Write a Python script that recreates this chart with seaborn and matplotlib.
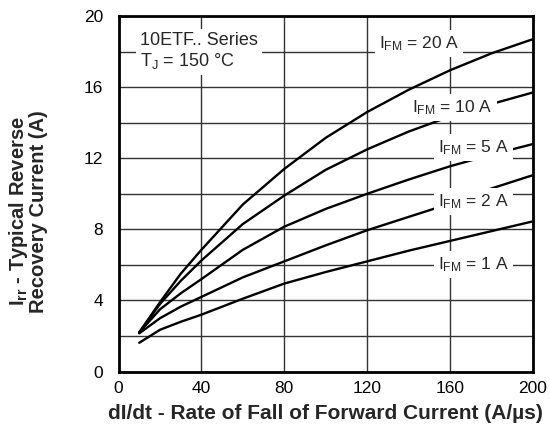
import matplotlib
matplotlib.use('Agg')
import matplotlib.pyplot as plt
from matplotlib.ticker import MultipleLocator
import numpy as np
import pandas as pd
import seaborn as sns

# 그래프 데이터
didt = [10, 20, 30, 40, 60, 80, 100, 120, 140, 160, 180, 200]
irr_20a = [2.2, 3.9, 5.5, 6.85, 9.4, 11.4, 13.15, 14.6, 15.85, 16.95, 17.9, 18.7]
irr_10a = [2.2, 3.8, 5.1, 6.25, 8.3, 9.9, 11.35, 12.5, 13.5, 14.35, 15.05, 15.7]
irr_5a = [2.2, 3.5, 4.4, 5.2, 6.85, 8.15, 9.15, 10.0, 10.8, 11.55, 12.2, 12.8]
irr_2a = [2.15, 3.0, 3.65, 4.2, 5.3, 6.2, 7.1, 7.95, 8.7, 9.45, 10.3, 11.05]
irr_1a = [1.62, 2.35, 2.8, 3.2, 4.1, 4.95, 5.6, 6.2, 6.8, 7.35, 7.9, 8.45]

series = ['20 A', '10 A', '5 A', '2 A', '1 A']
curves = [irr_20a, irr_10a, irr_5a, irr_2a, irr_1a]

# 곡선 라벨 위치 (dI/dt, Irr)
label_pos = [(145, 18.45), (161, 14.85), (171.5, 12.6), (171.5, 9.55), (171.5, 6.0)]

df = pd.concat([pd.DataFrame({'didt': didt, 'irr': c, 'ifm': s})
                for s, c in zip(series, curves)], ignore_index=True)

sns.set_style('white')
plt.rcParams['font.family'] = ['Liberation Sans', 'DejaVu Sans']
plt.rcParams['mathtext.default'] = 'regular'

fig = plt.figure(figsize=(5.5, 4.45), dpi=100)
ax = fig.add_axes([0.2155, 0.165, 0.7535, 0.799])

sns.lineplot(data=df, x='didt', y='irr', hue='ifm', palette=['black'] * 5,
             linewidth=1.7, legend=False, ax=ax, zorder=3)

ax.set_xlim(0, 200)
ax.set_ylim(0, 20)
ax.xaxis.set_major_locator(MultipleLocator(40))
ax.yaxis.set_major_locator(MultipleLocator(4))
ax.yaxis.set_minor_locator(MultipleLocator(2))
ax.grid(True, which='both', color='#333333', linewidth=1.0, zorder=1)
ax.set_axisbelow(True)
ax.tick_params(which='both', length=0, labelsize=12.5, colors='black')
ax.tick_params(axis='x', pad=7)
ax.tick_params(axis='y', pad=11)
for sp in ax.spines.values():
    sp.set_color('black')
    sp.set_linewidth(2)

ax.set_xlabel('dI/dt - Rate of Fall of Forward Current (A/µs)',
              fontsize=15, fontweight='bold')
ax.xaxis.set_label_coords(0.5, -0.092)
ax.xaxis.label.set_va('top')
ax.set_ylabel('I$_{rr}$ - Typical Reverse\nRecovery Current (A)',
              fontsize=14.5, fontweight='bold', linespacing=0.95)
ax.yaxis.set_label_coords(-0.17, 0.45)

# 시리즈 정보 박스
ax.text(10.3, 18.0, '10ETF.. Series\nT$_{J}$ = 150 °C', fontsize=13,
        ha='left', va='center', linespacing=1.15, zorder=4,
        bbox=dict(facecolor='white', edgecolor='none', pad=3))

# 곡선 라벨
for s, (x, y) in zip(series, label_pos):
    ax.text(x, y, 'I$_{FM}$ = ' + s, fontsize=12.5, ha='center', va='center',
            zorder=4, bbox=dict(facecolor='white', edgecolor='none', pad=3))

fig.savefig('out.png', dpi=100)
